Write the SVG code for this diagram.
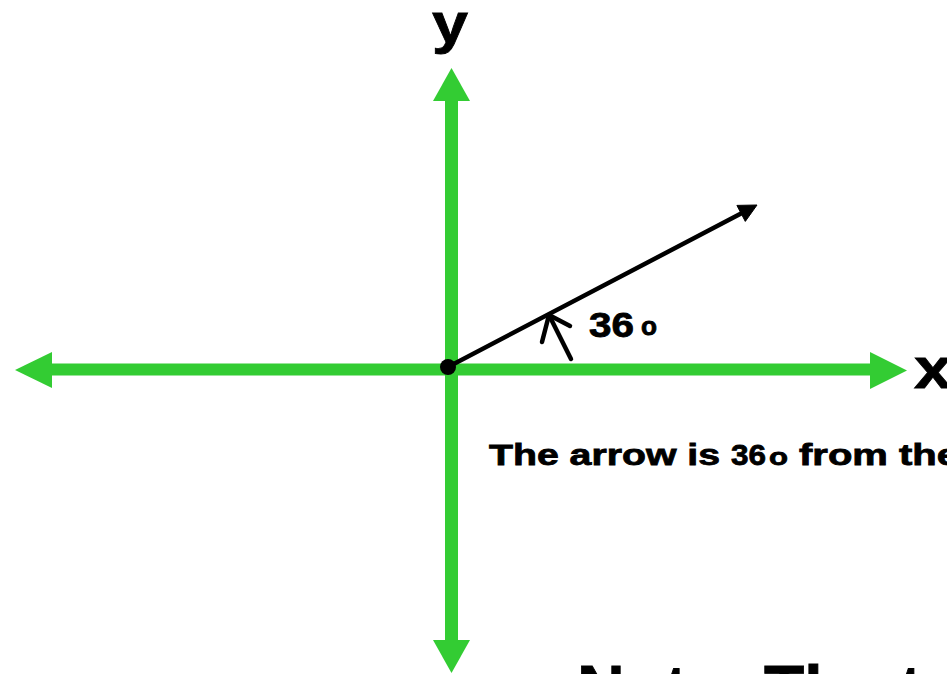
<svg xmlns="http://www.w3.org/2000/svg" width="947" height="674" viewBox="0 0 947 674">
  <style>
    .axis { fill: #33CC33; }
    .ink { stroke: #000; fill: none; stroke-linecap: round; stroke-linejoin: round; }
    .t { font-family: "Liberation Sans", Arial, sans-serif; font-weight: bold; fill: #000; stroke: #000; stroke-width: 0.8; }
  </style>
  <rect width="947" height="674" fill="#fff"/>
  <g id="connectors">
    <g id="x-axis">
      <rect class="axis" x="50" y="363.5" width="822" height="12"/>
      <polygon class="axis" points="15,370 52,352 52,388"/>
      <polygon class="axis" points="870,352 870,389 907,370.5"/>
    </g>
    <g id="y-axis">
      <rect class="axis" x="445" y="98" width="13" height="544"/>
      <polygon class="axis" points="451.5,68 433,101 470,101"/>
      <polygon class="axis" points="433,640 470,640 451.5,673"/>
    </g>
    <g id="vector">
      <line class="ink" x1="448" y1="367" x2="742" y2="213" stroke-width="4.5"/>
      <polygon points="757,205 745.3,221.4 736.9,205.4" fill="#000" stroke="#000" stroke-width="1" stroke-linejoin="round"/>
      <circle cx="448" cy="367" r="8" fill="#000"/>
    </g>
    <g id="angle-mark">
      <line class="ink" x1="571" y1="359" x2="549" y2="315" stroke-width="4.5"/>
      <polyline class="ink" points="542,342 549,315 570,326" stroke-width="4.5"/>
    </g>
  </g>
  <g id="label-y"><text class="t" x="432" y="42" font-size="55" textLength="36" lengthAdjust="spacingAndGlyphs">y</text></g>
  <g id="label-x"><text class="t" x="914" y="388" font-size="58" textLength="38" lengthAdjust="spacingAndGlyphs">x</text></g>
  <g id="label-angle">
    <text class="t" x="589" y="337" font-size="35" textLength="45" lengthAdjust="spacingAndGlyphs">36</text>
    <text class="t" x="641" y="335" font-size="25" textLength="16" lengthAdjust="spacingAndGlyphs">o</text>
  </g>
  <g id="caption">
    <text class="t" x="489" y="465" font-size="30" textLength="231" lengthAdjust="spacingAndGlyphs">The arrow is</text>
    <text class="t" x="731" y="465" font-size="30" textLength="35" lengthAdjust="spacingAndGlyphs">36</text>
    <text class="t" x="769" y="465" font-size="24" textLength="19" lengthAdjust="spacingAndGlyphs">o</text>
    <text class="t" x="799" y="465" font-size="30" textLength="160" lengthAdjust="spacingAndGlyphs">from the</text>
  </g>
  <g id="note">
    <text class="t" x="577" y="712" font-size="66">Note: The t</text>
  </g>
</svg>
